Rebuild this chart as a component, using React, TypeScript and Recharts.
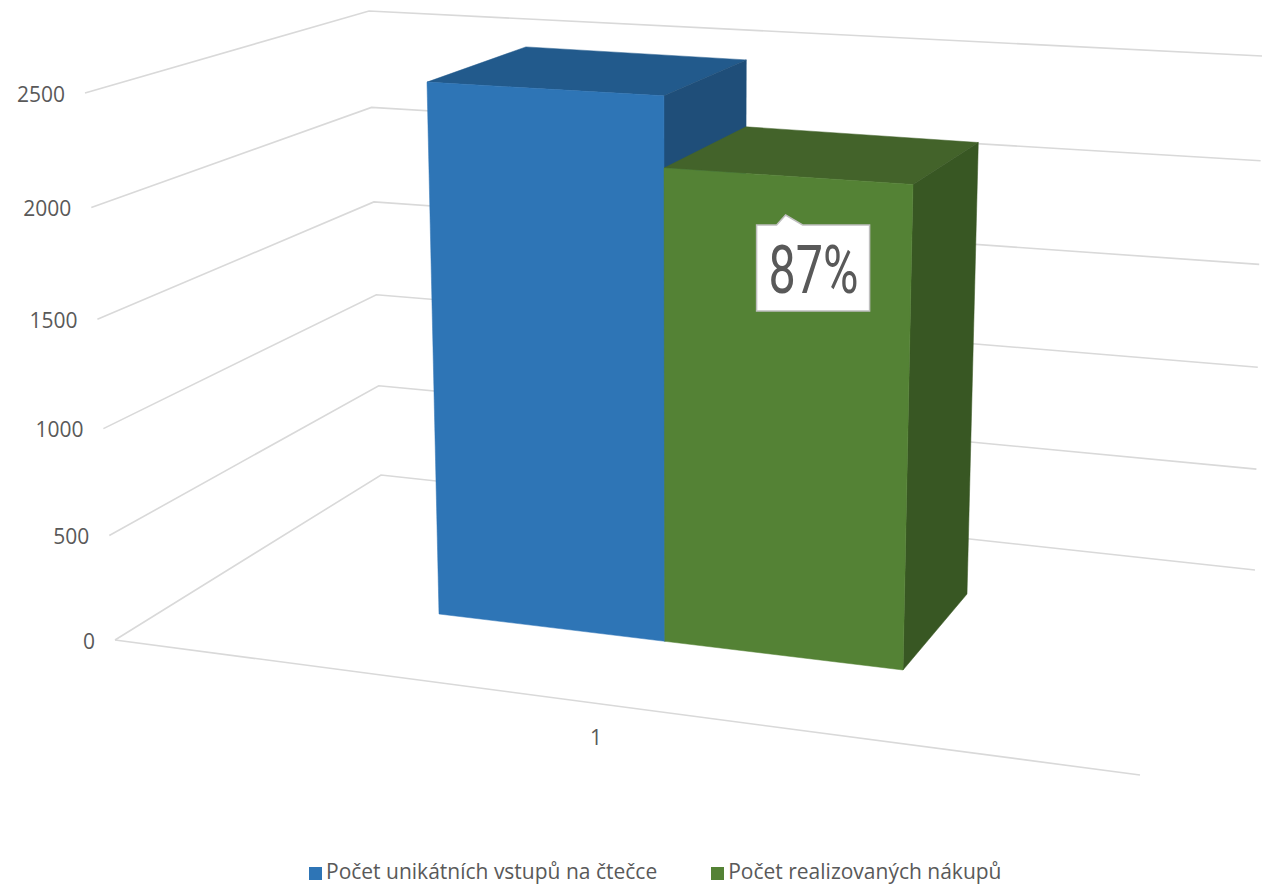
import React from "react";
import { BarChart, Bar, XAxis, YAxis, CartesianGrid, Legend, LabelList } from "recharts";

const categories = ["1"];
const seriesNames = ["Počet unikátních vstupů na čtečce", "Počet realizovaných nákupů"];
const entries = [2405];
const purchases = [2100];
const ratioLabels = ["87%"];
const yTicks = [0, 500, 1000, 1500, 2000, 2500];
const frontColors = ["#2E75B6", "#548235"];
const topColors = ["#225A8C", "#43632A"];
const sideColors = ["#1F4E79", "#385723"];

const data = categories.map((c, i) => ({
  name: c,
  entries: entries[i],
  purchases: purchases[i],
  callout: ratioLabels[i],
}));

const W = 1263;
const H = 884;
const M = { top: 93, left: 95, right: 186, bottom: 0 };
const Y_AXIS_W = 20;
const PLOT_LEFT = M.left + Y_AXIS_W;
const Y_MAX = yTicks[yTicks.length - 1];
const TEXT = "#595959";
const FONT = "'Open Sans', sans-serif";
const GRID = "#D9D9D9";

type Pt = [number, number];

// perspective map of the unit square onto a quad: (0,0), (1,0), (1,1), (0,1)
function warp(q: Pt[]) {
  const [[x0, y0], [x1, y1], [x2, y2], [x3, y3]] = q;
  const dx1 = x1 - x2, dx2 = x3 - x2, sx = x0 - x1 + x2 - x3;
  const dy1 = y1 - y2, dy2 = y3 - y2, sy = y0 - y1 + y2 - y3;
  const den = dx1 * dy2 - dx2 * dy1;
  const g = (sx * dy2 - dx2 * sy) / den;
  const h = (dx1 * sy - sx * dy1) / den;
  const a = x1 - x0 + g * x1, b = x3 - x0 + h * x3;
  const d = y1 - y0 + g * y1, e = y3 - y0 + h * y3;
  return (s: number, t: number): Pt => {
    const w = g * s + h * t + 1;
    return [(a * s + b * t + x0) / w, (d * s + e * t + y0) / w];
  };
}

const barFront = warp([[439, 614], [903, 670], [915, 87], [426.5, 60]]);
const barBack = warp([[534, 540], [967, 594], [980.6, 52], [525.6, 26.5]]);
const leftWall = warp([[115, 640], [381, 475], [369, 11], [85, 93]]);
const backWall = warp([[381, 475], [1255, 570], [1262, 56], [369, 11]]);
const floorFront: Pt[] = [[115, 640], [1140, 775]];

const poly = (pts: Pt[]) => pts.map((p) => p.map((n) => n.toFixed(1)).join(",")).join(" ");

const Bar3D = (props: any) => {
  const { x, y, width, height, background, series } = props;
  const plotW = W - PLOT_LEFT - M.right;
  const s0 = (x - PLOT_LEFT) / plotW;
  const s1 = (x + width - PLOT_LEFT) / plotW;
  const base = background.y + background.height;
  const t0 = (base - (y + height)) / background.height;
  const t1 = (base - y) / background.height;
  const f = [barFront(s0, t0), barFront(s1, t0), barFront(s1, t1), barFront(s0, t1)];
  const b = [barBack(s0, t0), barBack(s1, t0), barBack(s1, t1), barBack(s0, t1)];
  return (
    <g>
      <polygon points={poly([f[3], f[2], b[2], b[3]])} fill={topColors[series]} stroke={topColors[series]} strokeWidth={0.5} />
      <polygon points={poly([f[1], b[1], b[2], f[2]])} fill={sideColors[series]} stroke={sideColors[series]} strokeWidth={0.5} />
      <polygon points={poly(f)} fill={frontColors[series]} stroke={frontColors[series]} strokeWidth={0.5} />
    </g>
  );
};

const gridLine = (props: any) => {
  const { y1, y, height, index } = props;
  const t = (y + height - y1) / height;
  const pts: Pt[] = [leftWall(0, t), leftWall(1, t), backWall(1, t)];
  return (
    <g key={index}>
      <polyline points={poly(pts)} fill="none" stroke={GRID} strokeWidth={1.6} />
      {Math.abs(t) < 0.001 && <polyline points={poly(floorFront)} fill="none" stroke={GRID} strokeWidth={1.6} />}
    </g>
  );
};

const YTick = (props: any) => {
  const t = props.payload.value / Y_MAX;
  const [wx, wy] = leftWall(0, t);
  return (
    <text x={wx - 20} y={wy + 8.5} textAnchor="end" fontFamily={FONT} fontSize={21} fill={TEXT}>
      {props.payload.value}
    </text>
  );
};

const XTick = (props: any) => (
  <text x={props.x} y={744.5} textAnchor="middle" fontFamily={FONT} fontSize={21} fill={TEXT}>
    {props.payload.value}
  </text>
);

const Callout = (props: any) => {
  const [ax, ay] = barFront(0.8, 0.676);
  const cx = ax + 3;
  const cy = ay - 7;
  const at = (dx: number, dy: number): Pt => [cx + dx, cy + dy];
  const shape = [at(-57, -43), at(-37, -43), at(-28, -53), at(-11, -43), at(56, -43), at(56, 43), at(-57, 43)];
  return (
    <g>
      <polygon points={poly(shape)} fill="#FFFFFF" stroke="#BFBFBF" strokeWidth={1.5} />
      <text
        x={cx - 45}
        y={cy + 25}
        fontFamily="Roboto, sans-serif"
        fontWeight={400}
        fontSize={66}
        fill={TEXT}
        textLength={90}
        lengthAdjust="spacingAndGlyphs"
      >
        {props.value}
      </text>
    </g>
  );
};

export default function App() {
  return (
    <div style={{ position: "absolute", left: 0, top: 0, width: W, height: H }}>
      <BarChart width={W} height={H} data={data} margin={M} barCategoryGap={0} barGap={0}>
        <CartesianGrid vertical={false} horizontal={gridLine} />
        <XAxis dataKey="name" height={60} axisLine={false} tickLine={false} tick={<XTick />} />
        <YAxis
          width={Y_AXIS_W}
          domain={[0, Y_MAX]}
          ticks={yTicks}
          interval={0}
          axisLine={false}
          tickLine={false}
          tick={<YTick />}
        />
        <Bar
          dataKey="entries"
          name={seriesNames[0]}
          fill={frontColors[0]}
          isAnimationActive={false}
          shape={(p: any) => <Bar3D {...p} series={0} />}
        />
        <Bar
          dataKey="purchases"
          name={seriesNames[1]}
          fill={frontColors[1]}
          isAnimationActive={false}
          shape={(p: any) => <Bar3D {...p} series={1} />}
        >
          <LabelList dataKey="callout" content={<Callout />} />
        </Bar>
        <Legend
          iconType="square"
          iconSize={13}
          align="left"
          itemSorter={null as any}
          wrapperStyle={{ left: 309, top: 857, width: 800, fontFamily: FONT, fontSize: 21 }}
          formatter={(value: string) => (
            <span style={{ color: TEXT, marginRight: 44 }}>{value}</span>
          )}
        />
      </BarChart>
    </div>
  );
}
